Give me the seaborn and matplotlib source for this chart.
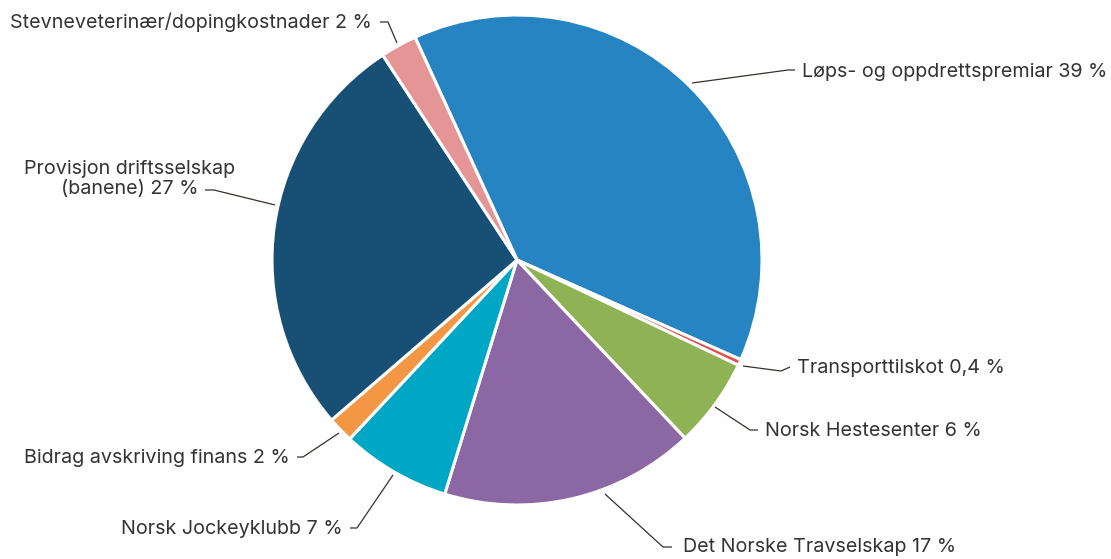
import numpy as np
import matplotlib
matplotlib.use("Agg")
import matplotlib.pyplot as plt
import seaborn as sns

# ---- data ----
categories = [
    "Løps- og oppdrettspremiar 39 %",
    "Transporttilskot 0,4 %",
    "Norsk Hestesenter 6 %",
    "Det Norske Travselskap 17 %",
    "Norsk Jockeyklubb 7 %",
    "Bidrag avskriving finans 2 %",
    "Provisjon driftsselskap\n(banene) 27 %",
    "Stevneveterinær/dopingkostnader 2 %",
]
values = [38.5, 0.4, 5.9, 16.8, 7.2, 1.7, 27.1, 2.4]
colors = ["#2584C1", "#D9534F", "#8FB255", "#8B67A3",
          "#00A7C4", "#F39744", "#174F75", "#E69597"]

sns.set_theme(style="white")
plt.rcParams["font.family"] = ["Inter", "DejaVu Sans"]

W, H = 1111, 559
CX, CY, R = 517, 260, 245  # pie centre / radius in pixels

def p2d(px, py):
    return (px - CX) / R, (CY - py) / R

fig = plt.figure(figsize=(W / 100, H / 100), dpi=100)
ax = fig.add_axes([0, 0, 1, 1])
wedges, _ = ax.pie(values, colors=sns.color_palette(colors), startangle=114.6,
                   counterclock=False, radius=1.0,
                   wedgeprops=dict(edgecolor="white", linewidth=2.2))
ax.set_xlim(-CX / R, (W - CX) / R)
ax.set_ylim(-(H - CY) / R, CY / R)
ax.set_aspect("equal", adjustable="box")
ax.axis("off")

# label layout in pixels: leader start, knee, end of short segment, text anchor, ha
layout = [
    ((692, 83), (788, 70), (795, 70), (802, 72), "left"),
    ((743, 366), (781, 371), (790, 367), (797, 368), "left"),
    ((715, 407), (750, 430), (758, 430), (765, 431), "left"),
    ((605, 494), (663, 547), (672, 547), (683, 547), "left"),
    ((393, 475), (357, 528), (350, 528), (343, 529), "right"),
    ((339, 433), (303, 457), (297, 457), (290, 458), "right"),
    ((275, 205), (214, 190), (205, 190), (130, 179), "center"),
    ((397, 43), (388, 22), (380, 22), (372, 22), "right"),
]

line_col = "#3a2f2b"
for lab, (start, knee, end, tpos, ha) in zip(categories, layout):
    pts = [p2d(*start), p2d(*knee), p2d(*end)]
    ax.plot([p[0] for p in pts], [p[1] for p in pts], color=line_col, lw=0.9,
            solid_capstyle="butt", clip_on=False)
    tx, ty = p2d(*tpos)
    ax.text(tx, ty, lab, ha=ha, va="center", fontsize=14.2,
            color="#333333", multialignment="center", linespacing=1.2)

fig.savefig("out.png", dpi=100)
